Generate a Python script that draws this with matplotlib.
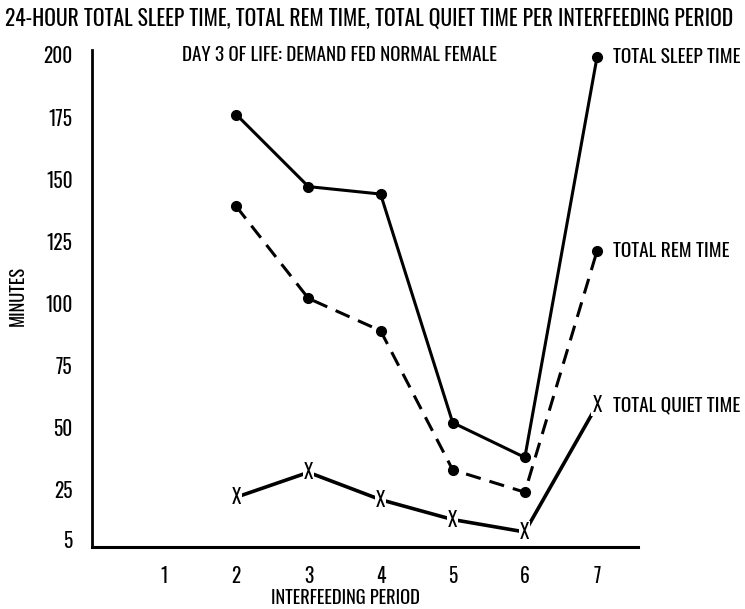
import matplotlib
matplotlib.use("Agg")
import matplotlib.pyplot as plt

# Interfeeding periods and minutes per period
periods = [2, 3, 4, 5, 6, 7]
sleep_time = [176, 147, 144, 52, 38, 199]
rem_time = [139, 102, 89, 33, 24, 121]
quiet_time = [22, 32, 21, 13, 8, 59]

x_ticks = [1, 2, 3, 4, 5, 6, 7]
y_ticks = [5, 25, 50, 75, 100, 125, 150, 175, 200]

plt.rcParams["font.family"] = ["Oswald", "Pathway Gothic One", "Roboto Condensed",
                               "Liberation Sans", "DejaVu Sans"]
plt.rcParams["font.weight"] = "light"

fig = plt.figure(figsize=(7.45, 6.09), dpi=100)
ax = fig.add_axes([0.1235, 0.102, 0.733, 0.816])
renderer = fig.canvas.get_renderer()


def fit_width(txt, width_px):
    """Scale a text's font size so that its rendered width is width_px."""
    w = txt.get_window_extent(renderer).width
    txt.set_fontsize(txt.get_fontsize() * width_px / w)
    return txt


ink = "black"
ax.plot(periods, sleep_time, color=ink, lw=2.2, marker="o", ms=7, clip_on=False)
ax.plot(periods, rem_time, color=ink, lw=2.2, ls=(0, (5, 3)), marker="o", ms=7,
        clip_on=False)
ax.plot(periods, quiet_time, color=ink, lw=2.6, clip_on=False)
for x, y in zip(periods, quiet_time):
    ax.text(x, y, "X", ha="center", va="center", fontsize=14,
            bbox=dict(boxstyle="square,pad=0.05", fc="white", ec="none"))

ax.set_xlim(0, 7.57)
ax.set_ylim(2, 202)
ax.set_xticks(x_ticks)
ax.set_yticks(y_ticks)
ax.tick_params(length=0, labelsize=14, pad=14)
for s in ["top", "right"]:
    ax.spines[s].set_visible(False)
ax.spines["left"].set_linewidth(2)
ax.spines["bottom"].set_linewidth(2.2)

W, H = 745, 609
xl = fig.text(345 / W, 1 - 598 / H, "INTERFEEDING PERIOD", fontsize=14,
              ha="center", va="center")
fit_width(xl, 150)
yl = fig.text(18 / W, 1 - 296 / H, "MINUTES", fontsize=14, rotation=90,
              ha="center", va="center")
yl.set_fontsize(xl.get_fontsize())

title = fig.text(0.007, 0.97,
                 "24-HOUR TOTAL SLEEP TIME, TOTAL REM TIME, TOTAL QUIET TIME PER INTERFEEDING PERIOD",
                 fontsize=14, va="center", ha="left")
fit_width(title, 728)
sub = ax.text(1.25, 200, "DAY 3 OF LIFE: DEMAND FED NORMAL FEMALE", fontsize=14,
              va="center", ha="left")
fit_width(sub, 316)

label_kw = dict(fontsize=14, va="center", ha="left", clip_on=False)
lab_sleep = ax.text(7.22, sleep_time[-1], "TOTAL SLEEP TIME", **label_kw)
fit_width(lab_sleep, 128)
size = lab_sleep.get_fontsize()
ax.text(7.22, rem_time[-1], "TOTAL REM TIME", **dict(label_kw, fontsize=size))
ax.text(7.22, quiet_time[-1], "TOTAL QUIET TIME", **dict(label_kw, fontsize=size))

fig.savefig("out.png", dpi=100)
